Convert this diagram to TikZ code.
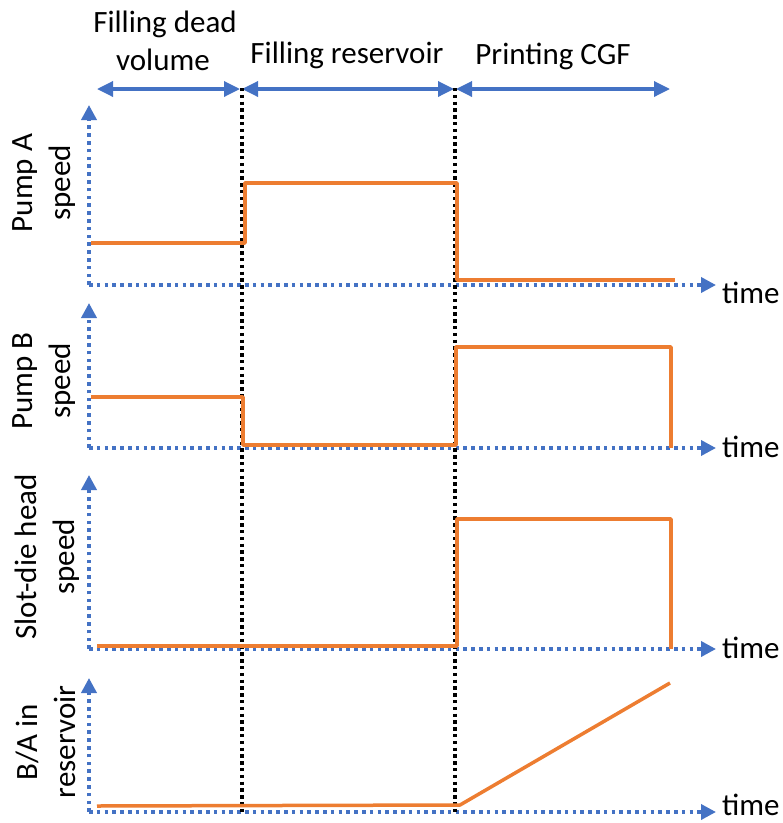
\documentclass[tikz,border=0pt]{standalone}
\usepackage{fontspec}
\setmainfont{Carlito}
\usetikzlibrary{arrows.meta}
\definecolor{axisblue}{HTML}{4472C4}
\definecolor{curveorange}{HTML}{ED7D31}
\begin{document}
\begin{tikzpicture}[x=1pt,y=-1pt,
  lbl/.style={font=\fontsize{31}{38}\selectfont, inner sep=0pt},
  phase/.style={draw=axisblue, line width=3.4pt,
    {Triangle[length=16pt,width=15pt]}-{Triangle[length=16pt,width=15pt]}},
  axis/.style={draw=axisblue, line width=3.6pt, dash pattern=on 3.6pt off 4.2pt,
    -{Triangle[length=15pt,width=15pt]}},
  divider/.style={draw=black, line width=3.6pt, dash pattern=on 3.4pt off 3.4pt},
  curve/.style={draw=curveorange, line width=3.5pt, line join=round},
]
\useasboundingbox (0,0) rectangle (783,823);

% phase labels
\node[lbl, anchor=base] (ph1a) at (165,32) {Filling dead};
\node[lbl, anchor=base] (ph1b) at (163,70) {volume};
\node[lbl, anchor=base] (ph2) at (347,63) {Filling reservoir};
\node[lbl, anchor=base] (ph3) at (553,64) {Printing CGF};

% phase boundaries
\coordinate (p0) at (97,89);
\coordinate (p1) at (241,89);
\coordinate (p2) at (455,89);
\coordinate (p3) at (670,89);
\draw[phase] (p0) -- ([xshift=-1pt]p1);
\draw[phase] ([xshift=1pt]p1) -- ([xshift=-1pt]p2);
\draw[phase] ([xshift=1pt]p2) -- (p3);

% axes of the four plots
\coordinate (o1) at (89,285);
\coordinate (o2) at (89,448);
\coordinate (o3) at (89,649);
\coordinate (o4) at (89,812);
\draw[axis] (o1) -- (89,105);
\draw[axis] (o1) -- (716,285);
\draw[axis] (o2) -- (89,303);
\draw[axis] (o2) -- (716,448);
\draw[axis] (o3) -- (89,475);
\draw[axis] (o3) -- (716,649);
\draw[axis] (o4) -- (89,678);
\draw[axis] (o4) -- (716,812);

% vertical dividers between phases
\draw[divider] (242,88) -- (242,812);
\draw[divider] (455,88) -- (455,812);

% axis labels
\node[lbl, rotate=90, align=center] (y1) at (44,183) {Pump A\\speed};
\node[lbl, rotate=90, align=center] (y2) at (44,381) {Pump B\\speed};
\node[lbl, rotate=90, align=center] (y3) at (47,557) {Slot-die head\\speed};
\node[lbl, rotate=90, align=center] (y4) at (46,742) {B/A in\\reservoir};
\node[lbl, anchor=base west] (x1) at (722,303) {time};
\node[lbl, anchor=base west] (x2) at (722,457) {time};
\node[lbl, anchor=base west] (x3) at (722,658) {time};
\node[lbl, anchor=base west] (x4) at (722,815) {time};

% curves
\draw[curve] (91,243) -| (245,183) -| (457,280) -- (675,280);
\draw[curve] (91,397) -| (243,445) -| (456,347) -| (671,448);
\draw[curve] (97,646) -| (457,519) -| (671,649);
\draw[curve] (97,806) -- (460,805) -- (670,683);
\end{tikzpicture}
\end{document}
